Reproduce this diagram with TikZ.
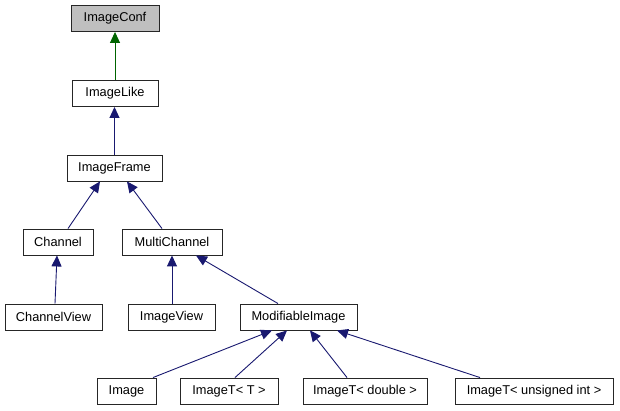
\documentclass[tikz,border=0pt]{standalone}
\usepackage{fontspec}
\setmainfont{Liberation Sans}
\usetikzlibrary{arrows.meta,calc}
\definecolor{edgeblue}{RGB}{25,25,112}
\definecolor{edgegreen}{RGB}{0,100,0}
\definecolor{boxgray}{RGB}{191,191,191}
\tikzset{
  cls/.style={draw=black!85, line width=0.9pt, fill=white, minimum height=26pt, inner sep=0pt,
    font=\fontsize{12.8}{14}\selectfont},
  inh/.style={draw=edgeblue, line width=0.9pt, -{Triangle[length=11pt,width=10pt]}},
  inhg/.style={draw=edgegreen, line width=0.9pt, -{Triangle[length=11pt,width=10pt]}, edgegreen},
}
\begin{document}
\begin{tikzpicture}[x=1pt,y=-1pt]
\useasboundingbox[fill=white] (0,0) rectangle (620,411);
\node[cls, fill=boxgray, minimum width=88pt] (conf) at (115,18.5) {ImageConf};
\node[cls, minimum width=86pt] (like) at (115,93.5) {ImageLike};
\node[cls, minimum width=95pt] (frame) at (114.5,168) {ImageFrame};
\node[cls, minimum width=70pt] (chan) at (58,242) {Channel};
\node[cls, minimum width=100pt] (multi) at (172,242) {MultiChannel};
\node[cls, minimum width=97pt] (cview) at (53.5,317) {ChannelView};
\node[cls, minimum width=87pt] (iview) at (171.5,317) {ImageView};
\node[cls, minimum width=117pt] (mod) at (298.5,317) {ModifiableImage};
\node[cls, minimum width=59pt] (img) at (126.5,391) {Image};
\node[cls, minimum width=98pt] (itt) at (229,391) {ImageT< T >};
\node[cls, minimum width=124pt] (itd) at (365,391) {ImageT< double >};
\node[cls, minimum width=158pt] (itu) at (534,391) {ImageT< unsigned int >};

\draw[inhg] (like.north) -- (conf.south);
\draw[inh] (frame.north) -- (frame.north |- like.south);
\draw[inh] ($(chan.north)+(10,0)$) -- ($(frame.south)+(-14.5,0)$);
\draw[inh] ($(multi.north)+(-10,0)$) -- ($(frame.south)+(12.5,0)$);
\draw[inh] ($(cview.north)+(1.5,0)$) -- ($(chan.south)+(-1,0)$);
\draw[inh] ($(iview.north)+(0.5,0)$) -- (multi.south);
\draw[inh] ($(mod.north)+(-20.5,0)$) -- ($(multi.south)+(24,0)$);
\draw[inh] ($(img.north)+(26.5,0)$) -- ($(mod.south)+(-26.5,0)$);
\draw[inh] ($(itt.north)+(6,0)$) -- ($(mod.south)+(-11.5,0)$);
\draw[inh] ($(itd.north)+(-18,0)$) -- ($(mod.south)+(11.5,0)$);
\draw[inh] ($(itu.north)+(-54,0)$) -- ($(mod.south)+(38.5,0)$);
\end{tikzpicture}
\end{document}
